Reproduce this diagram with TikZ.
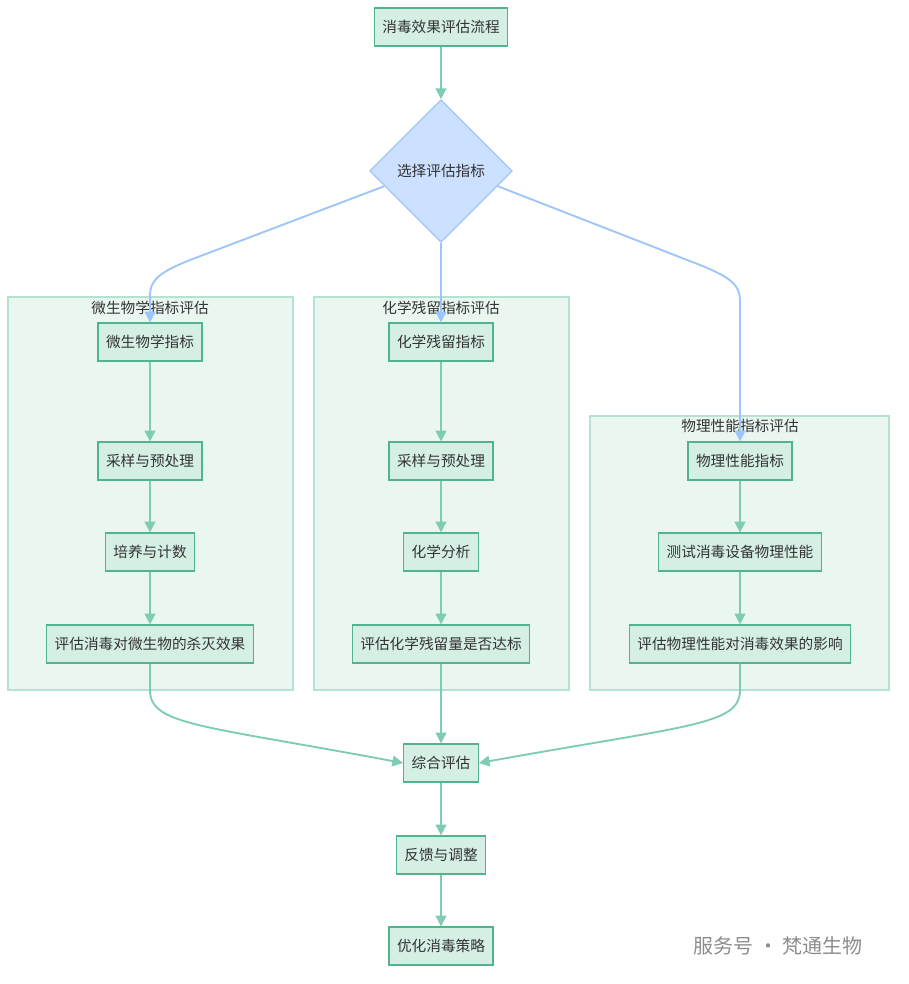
\documentclass[tikz,border=0pt]{standalone}
\usepackage{fontspec}
\setmainfont{Noto Sans CJK SC}
\usetikzlibrary{shapes.geometric, arrows.meta}
\definecolor{boxfill}{HTML}{D5EFE5}
\definecolor{boxline}{HTML}{52B48C}
\definecolor{flowline}{HTML}{7ECDB0}
\definecolor{dfill}{HTML}{CCE0FF}
\definecolor{dline}{HTML}{9EC5FB}
\definecolor{gfill}{HTML}{EAF7F1}
\definecolor{gline}{HTML}{B5E3CF}
\tikzset{
  stepbox/.style={draw=boxline, fill=boxfill, line width=0.9pt, minimum height=28.5pt, inner xsep=6pt, font=\fontsize{11pt}{13pt}\selectfont, text=black!80},
  group/.style={draw=gline, fill=gfill, line width=0.8pt},
  flow/.style={draw=flowline, line width=1.4pt, -{Triangle[length=8pt,width=8pt]}},
  dflow/.style={draw=dline, line width=1.4pt, -{Triangle[length=8pt,width=8pt]}},
  grouptitle/.style={font=\fontsize{11pt}{13pt}\selectfont, text=black!80}
}
\begin{document}
\begin{tikzpicture}[x=0.75pt,y=-0.75pt]
    \useasboundingbox (0,0) rectangle (908,984);
    % groups
    \draw[group] (8,297) rectangle (293,690);
    \draw[group] (314,297) rectangle (569,690);
    \draw[group] (590,416) rectangle (889,690);
    \node[grouptitle] (t1) at (150,308) {微生物学指标评估};
    \node[grouptitle] (t2) at (441,308) {化学残留指标评估};
    \node[grouptitle] (t3) at (740,426) {物理性能指标评估};
    % nodes
    \node[stepbox] (start) at (441,27) {消毒效果评估流程};
    \node[diamond, draw=dline, fill=dfill, line width=0.9pt, minimum width=107pt, minimum height=107pt, inner sep=0pt, font=\fontsize{11pt}{13pt}\selectfont, text=black!80] (choose) at (441,171) {选择评估指标};
    \node[stepbox] (m1) at (150,342) {微生物学指标};
    \node[stepbox] (m2) at (150,461) {采样与预处理};
    \node[stepbox] (m3) at (150,552) {培养与计数};
    \node[stepbox] (m4) at (150,644) {评估消毒对微生物的杀灭效果};
    \node[stepbox] (c1) at (441,342) {化学残留指标};
    \node[stepbox] (c2) at (441,461) {采样与预处理};
    \node[stepbox] (c3) at (441,552) {化学分析};
    \node[stepbox] (c4) at (441,644) {评估化学残留量是否达标};
    \node[stepbox] (p1) at (740,461) {物理性能指标};
    \node[stepbox] (p2) at (740,552) {测试消毒设备物理性能};
    \node[stepbox] (p3) at (740,644) {评估物理性能对消毒效果的影响};
    \node[stepbox] (all) at (441,763) {综合评估};
    \node[stepbox] (fb) at (441,855) {反馈与调整};
    \node[stepbox] (opt) at (441,946) {优化消毒策略};
    \node[font=\fontsize{15pt}{17pt}\selectfont, text=black!45] (mark) at (778,946) {服务号 · 梵通生物};
    % edges
    \draw[flow] (start) -- (choose);
    \draw[dflow] (choose.195) -- (190,260) .. controls (160,272) and (150,280) .. (150,295) -- (m1);
    \draw[dflow] (choose.south) -- (c1);
    \draw[dflow] (choose.-15) -- (700,265) .. controls (730,277) and (740,285) .. (740,300) -- (p1);
    \draw[flow] (m1) -- (m2);
    \draw[flow] (m2) -- (m3);
    \draw[flow] (m3) -- (m4);
    \draw[flow] (c1) -- (c2);
    \draw[flow] (c2) -- (c3);
    \draw[flow] (c3) -- (c4);
    \draw[flow] (p1) -- (p2);
    \draw[flow] (p2) -- (p3);
    \draw[flow] (m4.south) -- (150,690) .. controls (150,725) and (200,725) .. (all.west);
    \draw[flow] (c4) -- (all);
    \draw[flow] (p3.south) -- (740,690) .. controls (740,725) and (690,725) .. (all.east);
    \draw[flow] (all) -- (fb);
    \draw[flow] (fb) -- (opt);
\end{tikzpicture}
\end{document}
